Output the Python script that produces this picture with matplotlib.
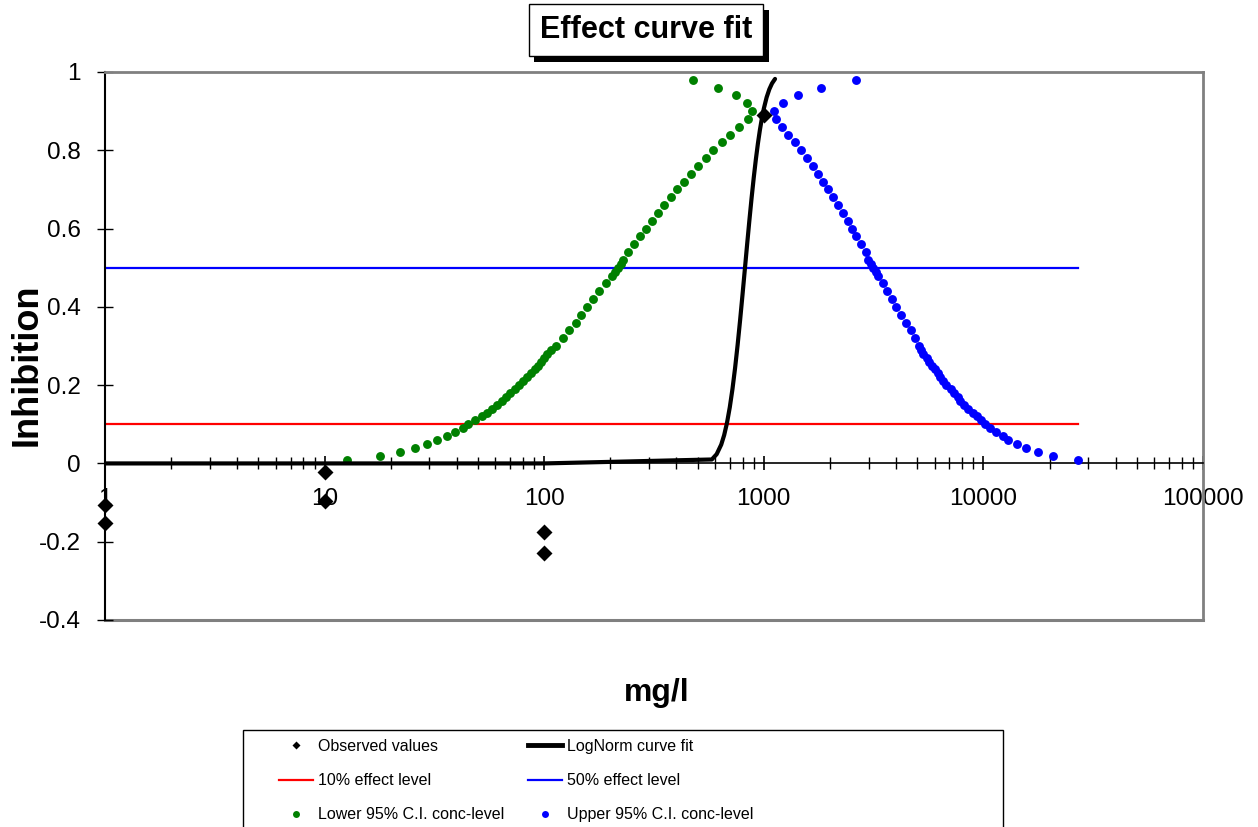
import matplotlib
matplotlib.use('Agg')
import matplotlib.pyplot as plt
from matplotlib.lines import Line2D
from matplotlib.patches import Rectangle
import matplotlib.patheffects as pe
from matplotlib.ticker import FixedLocator, NullFormatter
from matplotlib import font_manager

# ---------------- data ----------------
obs_conc = [1, 1, 10, 10, 100, 100, 1000]
obs_inhib = [-0.107, -0.152, -0.022, -0.096, -0.174, -0.228, 0.891]

fit_conc = [1, 10, 100, 580, 610, 640, 660, 680, 700, 720, 740, 760, 780, 800,
            820, 840, 860, 880, 900, 920, 940, 960, 980, 1000, 1030, 1060, 1090, 1125]
fit_inhib = [0.0, 0.0, 0.0, 0.0101, 0.0236, 0.0481, 0.0724, 0.104, 0.1434, 0.1902,
             0.2438, 0.303, 0.366, 0.4313, 0.4967, 0.5608, 0.6218, 0.6786, 0.7303,
             0.7766, 0.8171, 0.852, 0.8816, 0.9062, 0.9352, 0.9561, 0.9709, 0.9823]

levels = [0.01, 0.02, 0.03, 0.04, 0.05, 0.06, 0.07, 0.08, 0.09, 0.10,
          0.11, 0.12, 0.13, 0.14, 0.15, 0.16, 0.17, 0.18, 0.19, 0.20,
          0.21, 0.22, 0.23, 0.24, 0.25, 0.26, 0.27, 0.28, 0.29, 0.30,
          0.32, 0.34, 0.36, 0.38, 0.40, 0.42, 0.44, 0.46, 0.48, 0.49,
          0.50, 0.51, 0.52, 0.54, 0.56, 0.58, 0.60, 0.62, 0.64, 0.66,
          0.68, 0.70, 0.72, 0.74, 0.76, 0.78, 0.80, 0.82, 0.84, 0.86,
          0.88, 0.90, 0.92, 0.94, 0.96, 0.98]

lower_ci = [12.7, 17.9, 22.0, 25.7, 29.2, 32.6, 36.0, 39.3, 42.6, 45.1,
            48.4, 51.9, 54.7, 58.0, 60.8, 64.0, 67.0, 69.9, 73.6, 76.8,
            80.3, 83.8, 87.1, 90.4, 93.7, 96.7, 99.9, 103.1, 107.9, 113.4,
            121.4, 130.1, 139.1, 147.1, 157.2, 167.3, 178.2, 191.2, 204.2, 210.1,
            217.5, 223.0, 229.2, 241.5, 257.3, 273.2, 289.9, 308.7, 329.8, 351.2,
            376.7, 403.6, 433.1, 464.6, 503.1, 543.7, 588.9, 643.2, 701.7, 773.3,
            844.8, 886.5, 835.9, 744.7, 620.6, 474.6]

upper_ci = [26880, 20816, 17738, 15631, 14223, 12942, 12218, 11353, 10718, 10170,
            9752, 9352, 8924, 8511, 8161, 7826, 7624, 7348, 7083, 6756,
            6547, 6345, 6180, 6020, 5804, 5653, 5507, 5336, 5225, 5106,
            4881, 4667, 4430, 4215, 4000, 3823, 3628, 3501, 3322, 3243,
            3152, 3068, 2992, 2911, 2763, 2630, 2514, 2411, 2287, 2184,
            2073, 1967, 1866, 1771, 1670, 1568, 1477, 1387, 1293, 1207,
            1133, 1116, 1227, 1431, 1813, 2621]

effect_line_conc = [1, 26880]
effect10 = [0.1, 0.1]
effect50 = [0.5, 0.5]

x_ticks = [1, 10, 100, 1000, 10000, 100000]
x_tick_labels = ['1', '10', '100', '1000', '10000', '100000']
y_ticks = [-0.4, -0.2, 0, 0.2, 0.4, 0.6, 0.8, 1.0]
y_tick_labels = ['-0.4', '-0.2', '0', '0.2', '0.4', '0.6', '0.8', '1']

legend_labels = ['Observed values', 'LogNorm curve fit', '10% effect level',
                 '50% effect level', 'Lower 95% C.I. conc-level', 'Upper 95% C.I. conc-level']

# ---------------- style ----------------
plt.rcParams['font.family'] = ['Liberation Sans', 'DejaVu Sans']
names = {f.name for f in font_manager.fontManager.ttflist}
legend_family = 'Liberation Sans Narrow' if 'Liberation Sans Narrow' in names else 'Liberation Sans'

W, H = 1258, 827
fig = plt.figure(figsize=(W / 100, H / 100), dpi=100)
ax = fig.add_axes([105 / W, 1 - 620 / H, (1203 - 105) / W, (620 - 72) / H])
ax.set_xscale('log')
ax.set_xlim(1, 100000)
ax.set_ylim(-0.4, 1)

GREEN = '#008000'
BLUE = '#0000ff'
RED = '#ff0000'

ax.plot(effect_line_conc, effect10, color=RED, lw=1.6, zorder=2)
ax.plot(effect_line_conc, effect50, color=BLUE, lw=1.6, zorder=2)
ax.plot(lower_ci, levels, 'o', color=GREEN, ms=6.4, mec='none', zorder=3)
ax.plot(upper_ci, levels, 'o', color=BLUE, ms=6.4, mec='none', zorder=3)
ax.plot(fit_conc, fit_inhib, color='black', lw=3, zorder=4, solid_capstyle='round')
ax.plot(obs_conc, obs_inhib, 'D', color='black', ms=8.3, mec='none', zorder=5, clip_on=False)

# spines
ax.spines['bottom'].set_position(('data', 0))
ax.spines['bottom'].set_color('black')
ax.spines['bottom'].set_linewidth(1.2)
ax.spines['left'].set_color('black')
ax.spines['left'].set_linewidth(1.5)
for s in ('top', 'right'):
    ax.spines[s].set_color('#808080')
    ax.spines[s].set_linewidth(2)
ax.plot([0, 1], [0, 0], transform=ax.transAxes, color='#808080', lw=2.2,
        clip_on=False, zorder=1)

# ticks
ax.xaxis.set_major_locator(FixedLocator(x_ticks))
ax.set_xticklabels(x_tick_labels)
minor = [m * d for d in x_ticks[:-1] for m in range(2, 10)]
ax.xaxis.set_minor_locator(FixedLocator(minor))
ax.xaxis.set_minor_formatter(NullFormatter())
ax.tick_params(axis='x', which='major', direction='inout', length=10, width=1.2,
               pad=13, labelsize=17.5)
ax.tick_params(axis='x', which='minor', direction='inout', length=8, width=1)
ax.set_yticks(y_ticks)
ax.set_yticklabels(y_tick_labels)
ax.tick_params(axis='y', direction='inout', length=11.5, width=1, pad=11.5,
               labelsize=17.5)

# labels
fig.text(657 / W, 1 - 693 / H, 'mg/l', ha='center', va='center', fontsize=23,
         fontweight='bold')
fig.text(27 / W, 1 - 365 / H, 'Inhibition', ha='center', va='center', rotation=90,
         fontsize=26, fontweight='bold')

t = fig.text(646 / W, 1 - 30 / H, 'Effect curve fit', ha='center', va='center',
             fontsize=22, fontweight='bold',
             bbox=dict(boxstyle='square,pad=0.36', fc='white', ec='black', lw=1))
t.get_bbox_patch().set_path_effects([
    pe.SimplePatchShadow(offset=(4, -4), shadow_rgbFace='black', alpha=1),
    pe.Normal()])

# legend
fs = 11.5
fs_px = fs * 100 / 72
h_obs = Line2D([], [], ls='none', marker='D', color='black', ms=4.5, mec='none')
h_fit = Line2D([], [], color='black', lw=3.5)
h_10 = Line2D([], [], color=RED, lw=1.6)
h_50 = Line2D([], [], color=BLUE, lw=1.6)
h_low = Line2D([], [], ls='none', marker='o', color=GREEN, ms=5, mec='none')
h_up = Line2D([], [], ls='none', marker='o', color=BLUE, ms=5, mec='none')

common = dict(loc='upper left', frameon=False, borderpad=0, borderaxespad=0,
              handlelength=34 / fs_px, handletextpad=5 / fs_px, labelspacing=1.2,
              prop={'family': legend_family, 'size': fs})
fig.legend([h_obs, h_10, h_low], [legend_labels[0], legend_labels[2], legend_labels[4]],
           bbox_to_anchor=(279 / W, 1 - 739 / H), **common)
fig.legend([h_fit, h_50, h_up], [legend_labels[1], legend_labels[3], legend_labels[5]],
           bbox_to_anchor=(528 / W, 1 - 739 / H), **common)
fig.add_artist(Rectangle((243 / W, 1 - 840 / H), (1003 - 243) / W, (840 - 730) / H,
                         transform=fig.transFigure, fill=False, ec='black', lw=1))

fig.savefig('out.png', dpi=100)
